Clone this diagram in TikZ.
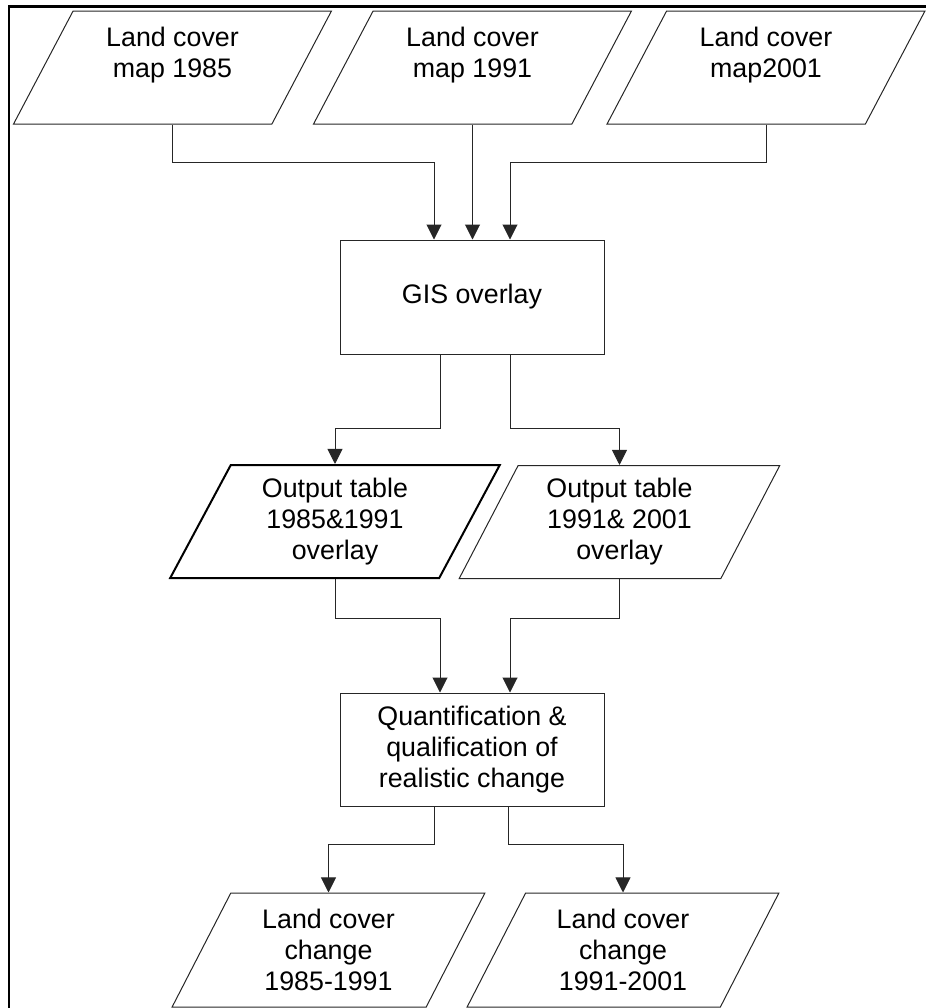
\documentclass[tikz,border=0pt]{standalone}
\usepackage{fontspec}
\setmainfont{Liberation Sans}
\usepackage{tikz}
\usetikzlibrary{arrows.meta}
\usetikzlibrary{calc}
\usetikzlibrary{positioning}
\usetikzlibrary{shapes.geometric}
\tikzset{
  every node/.style={font=\fontsize{13.4}{15.5}\selectfont, align=center},
  datanode/.style={
    trapezium, trapezium left angle=64, trapezium right angle=116,
    trapezium stretches=true,
    draw=black!85, line width=0.5pt, inner sep=0pt,
    minimum width=159pt, minimum height=56.5pt
  },
  procnode/.style={
    rectangle, draw=black!85, line width=0.5pt,
    minimum width=132pt, minimum height=57pt
  },
  arrow/.style={-{Triangle[width=7.5pt,length=7.5pt]}, line width=0.5pt, black!85}
}

\begin{document}
\begin{tikzpicture}[x=0.5pt, y=-0.5pt]
      \useasboundingbox (0,0) rectangle (926,1008);
      \draw [line width=1.3pt] (9,1008) -- (9,6.5) -- (926,6.5);

      \node [datanode] (m85) at (172.5,67.5) {Land cover\\map 1985\\\mbox{}};
      \node [datanode] (m91) at (472.5,67.5) {Land cover\\map 1991\\\mbox{}};
      \node [datanode] (m01) at (766,67.5) {Land cover\\map2001\\\mbox{}};

      \node [procnode] (gis) at (472,297) {GIS overlay};

      \node [datanode, minimum width=165pt, draw=black, line width=1pt] (tab1) at (335,521.5) {Output table\\1985\&1991\\overlay};
      \node [datanode, minimum width=160.5pt] (tab2) at (619.5,522) {Output table\\1991\& 2001\\overlay};

      \node [procnode, minimum height=56.5pt] (quant) at (472,749.5) {Quantification \&\\qualification of\\realistic change};

      \node [datanode, minimum width=156.5pt, minimum height=57pt] (ch1) at (328.5,950) {Land cover\\change\\1985-1991};
      \node [datanode, minimum width=156pt, minimum height=57pt] (ch2) at (623,950) {Land cover\\change\\1991-2001};

      \draw [arrow] (m85.center |- m85.south) -- ++(0,38) -| ([xshift=-19pt]gis.north);
      \draw [arrow] (m91.center |- m91.south) -- (m91.center |- gis.north);
      \draw [arrow] (m01.center |- m01.south) -- ++(0,38) -| ([xshift=19pt]gis.north);

      \draw [arrow] ([xshift=-16pt]gis.south) -- ++(0,74) -| (tab1.center |- tab1.north);
      \draw [arrow] ([xshift=19pt]gis.south) -- ++(0,74) -| (tab2.center |- tab2.north);

      \draw [arrow] (tab1.center |- tab1.south) -- ++(0,39) -| ([xshift=-16pt]quant.north);
      \draw [arrow] (tab2.center |- tab2.south) -- ++(0,39) -| ([xshift=19pt]quant.north);

      \draw [arrow] ([xshift=-19pt]quant.south) -- ++(0,38) -| (ch1.center |- ch1.north);
      \draw [arrow] ([xshift=18pt]quant.south) -- ++(0,38) -| (ch2.center |- ch2.north);
\end{tikzpicture}
\end{document}
